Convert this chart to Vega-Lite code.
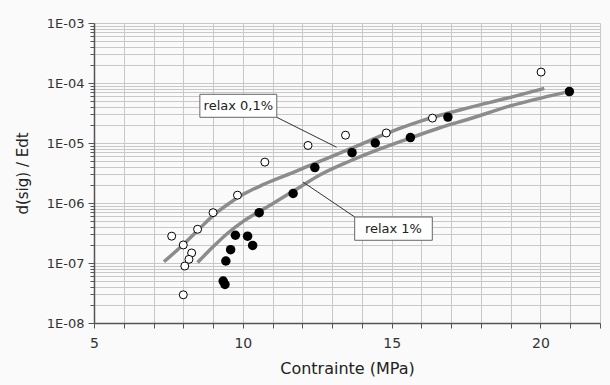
{
  "$schema": "https://vega.github.io/schema/vega-lite/v6.json",
  "width": 506,
  "height": 300,
  "autosize": {"type": "none"},
  "padding": {"left": 94, "top": 23, "right": 10, "bottom": 62},
  "background": "#fafafa",
  "config": {
    "view": {"stroke": null},
    "font": "DejaVu Sans",
    "axis": {
      "labelFont": "DejaVu Sans",
      "titleFont": "DejaVu Sans",
      "labelFontSize": 13,
      "titleFontSize": 15,
      "titleFontWeight": "normal",
      "labelColor": "#333",
      "titleColor": "#222",
      "domainColor": "#555",
      "domainWidth": 1.5,
      "tickColor": "#555",
      "gridColor": "#c8c8c8",
      "gridWidth": 1,
      "labelOverlap": false
    }
  },
  "datasets": {
    "curves": [
      {"curve": "relax 0,1%", "x": 7.35, "y": 1.047e-7},
      {"curve": "relax 0,1%", "x": 8.0, "y": 2.04e-7},
      {"curve": "relax 0,1%", "x": 8.5, "y": 3.55e-7},
      {"curve": "relax 0,1%", "x": 9.0, "y": 6.17e-7},
      {"curve": "relax 0,1%", "x": 9.5, "y": 9.55e-7},
      {"curve": "relax 0,1%", "x": 10.0, "y": 1.38e-6},
      {"curve": "relax 0,1%", "x": 10.7, "y": 2.04e-6},
      {"curve": "relax 0,1%", "x": 11.8, "y": 3.39e-6},
      {"curve": "relax 0,1%", "x": 12.6, "y": 5.01e-6},
      {"curve": "relax 0,1%", "x": 13.5, "y": 7.59e-6},
      {"curve": "relax 0,1%", "x": 14.3, "y": 1.12e-5},
      {"curve": "relax 0,1%", "x": 15.2, "y": 1.70e-5},
      {"curve": "relax 0,1%", "x": 16.0, "y": 2.34e-5},
      {"curve": "relax 0,1%", "x": 17.6, "y": 3.89e-5},
      {"curve": "relax 0,1%", "x": 18.9, "y": 5.62e-5},
      {"curve": "relax 0,1%", "x": 20.13, "y": 8.13e-5},
      {"curve": "relax 1%", "x": 8.48, "y": 1.02e-7},
      {"curve": "relax 1%", "x": 9.0, "y": 1.86e-7},
      {"curve": "relax 1%", "x": 9.5, "y": 3.16e-7},
      {"curve": "relax 1%", "x": 10.0, "y": 4.90e-7},
      {"curve": "relax 1%", "x": 10.7, "y": 7.94e-7},
      {"curve": "relax 1%", "x": 11.3, "y": 1.20e-6},
      {"curve": "relax 1%", "x": 11.9, "y": 1.82e-6},
      {"curve": "relax 1%", "x": 12.6, "y": 2.95e-6},
      {"curve": "relax 1%", "x": 13.6, "y": 5.01e-6},
      {"curve": "relax 1%", "x": 14.5, "y": 7.59e-6},
      {"curve": "relax 1%", "x": 15.5, "y": 1.15e-5},
      {"curve": "relax 1%", "x": 16.6, "y": 1.78e-5},
      {"curve": "relax 1%", "x": 17.6, "y": 2.51e-5},
      {"curve": "relax 1%", "x": 19.0, "y": 4.17e-5},
      {"curve": "relax 1%", "x": 20.8, "y": 6.92e-5}
    ],
    "open": [
      {"x": 7.61, "y": 2.8e-7},
      {"x": 8.0, "y": 2.0e-7},
      {"x": 8.28, "y": 1.47e-7},
      {"x": 8.19, "y": 1.15e-7},
      {"x": 8.05, "y": 8.9e-8},
      {"x": 8.0, "y": 2.95e-8},
      {"x": 8.48, "y": 3.65e-7},
      {"x": 9.0, "y": 6.9e-7},
      {"x": 9.82, "y": 1.35e-6},
      {"x": 10.74, "y": 4.8e-6},
      {"x": 12.19, "y": 9.1e-6},
      {"x": 13.45, "y": 1.35e-5},
      {"x": 14.82, "y": 1.47e-5},
      {"x": 16.37, "y": 2.6e-5},
      {"x": 20.02, "y": 1.52e-4}
    ],
    "filled": [
      {"x": 9.34, "y": 5.0e-8},
      {"x": 9.40, "y": 4.4e-8},
      {"x": 9.43, "y": 1.08e-7},
      {"x": 9.59, "y": 1.67e-7},
      {"x": 9.75, "y": 2.9e-7},
      {"x": 10.16, "y": 2.8e-7},
      {"x": 10.33, "y": 1.96e-7},
      {"x": 10.55, "y": 6.9e-7},
      {"x": 11.69, "y": 1.44e-6},
      {"x": 12.42, "y": 3.9e-6},
      {"x": 13.67, "y": 6.9e-6},
      {"x": 14.45, "y": 1.0e-5},
      {"x": 15.63, "y": 1.23e-5},
      {"x": 16.89, "y": 2.7e-5},
      {"x": 20.97, "y": 7.2e-5}
    ],
    "labels": [
      {"label": "relax 0,1%", "x1": 8.557, "x2": 11.141, "y1": 6.48e-5, "y2": 2.68e-5, "tx": 9.85, "ty": 4.17e-5, "lx1": 11.14, "ly1": 2.68e-5, "lx2": 13.15, "ly2": 8.5e-6},
      {"label": "relax 1%", "x1": 13.758, "x2": 16.366, "y1": 5.84e-7, "y2": 2.39e-7, "tx": 15.06, "ty": 3.72e-7, "lx1": 12.02, "ly1": 2.24e-6, "lx2": 13.76, "ly2": 5.84e-7}
    ]
  },
  "layer": [
    {
      "data": {"name": "curves"},
      "mark": {"type": "line", "interpolate": "monotone", "color": "#8c8c8c", "strokeWidth": 3.5},
      "encoding": {
        "x": {
          "field": "x", "type": "quantitative",
          "scale": {"domain": [5, 22], "nice": false, "zero": false},
          "axis": {
            "title": "Contrainte (MPa)",
            "titleFontSize": 16,
            "values": [5, 6, 7, 8, 9, 10, 11, 12, 13, 14, 15, 16, 17, 18, 19, 20, 21, 22],
            "tickCount": 200,
            "labelExpr": "datum.value % 5 == 0 ? '' + datum.value : ''",
            "labelOverlap": false,
            "labelFontSize": 14,
            "tickSize": 5,
            "labelPadding": 8,
            "titlePadding": 10,
            "labelFlush": false
          }
        },
        "y": {
          "field": "y", "type": "quantitative",
          "scale": {"type": "log", "domain": [1e-8, 1e-3], "nice": false},
          "axis": {
            "title": "d(sig) / Edt",
            "values": [1e-8, 2e-8, 3e-8, 4e-8, 5e-8, 6e-8, 7e-8, 8e-8, 9e-8,
                       1e-7, 2e-7, 3e-7, 4e-7, 5e-7, 6e-7, 7e-7, 8e-7, 9e-7,
                       1e-6, 2e-6, 3e-6, 4e-6, 5e-6, 6e-6, 7e-6, 8e-6, 9e-6,
                       1e-5, 2e-5, 3e-5, 4e-5, 5e-5, 6e-5, 7e-5, 8e-5, 9e-5,
                       1e-4, 2e-4, 3e-4, 4e-4, 5e-4, 6e-4, 7e-4, 8e-4, 9e-4, 1e-3],
            "tickCount": 200,
            "labelExpr": "abs(log(datum.value)/LN10 - round(log(datum.value)/LN10)) < 0.001 ? '1E-0' + (-round(log(datum.value)/LN10)) : ''",
            "labelOverlap": false,
            "tickSize": {"condition": {"test": "abs(log(datum.value)/LN10 - round(log(datum.value)/LN10)) < 0.001", "value": 6}, "value": 4},
            "labelPadding": 4,
            "titlePadding": 16,
            "labelFlush": false
          }
        },
        "detail": {"field": "curve"}
      }
    },
    {
      "data": {"name": "open"},
      "mark": {"type": "point", "shape": "circle", "filled": true, "fill": "white", "stroke": "black", "strokeWidth": 1, "size": 64, "opacity": 1},
      "encoding": {
        "x": {"field": "x", "type": "quantitative"},
        "y": {"field": "y", "type": "quantitative"}
      }
    },
    {
      "data": {"name": "filled"},
      "mark": {"type": "circle", "color": "black", "size": 90, "opacity": 1},
      "encoding": {
        "x": {"field": "x", "type": "quantitative"},
        "y": {"field": "y", "type": "quantitative"}
      }
    },
    {
      "data": {"name": "labels"},
      "mark": {"type": "rule", "color": "#333", "strokeWidth": 1},
      "encoding": {
        "x": {"field": "lx1", "type": "quantitative"},
        "y": {"field": "ly1", "type": "quantitative"},
        "x2": {"field": "lx2"},
        "y2": {"field": "ly2"}
      }
    },
    {
      "data": {"name": "labels"},
      "mark": {"type": "rect", "fill": "white", "stroke": "#666", "strokeWidth": 1},
      "encoding": {
        "x": {"field": "x1", "type": "quantitative"},
        "x2": {"field": "x2"},
        "y": {"field": "y1", "type": "quantitative"},
        "y2": {"field": "y2"}
      }
    },
    {
      "data": {"name": "labels"},
      "mark": {"type": "text", "font": "DejaVu Sans", "fontSize": 13, "color": "#222", "align": "center", "baseline": "middle"},
      "encoding": {
        "x": {"field": "tx", "type": "quantitative"},
        "y": {"field": "ty", "type": "quantitative"},
        "text": {"field": "label"}
      }
    }
  ]
}
